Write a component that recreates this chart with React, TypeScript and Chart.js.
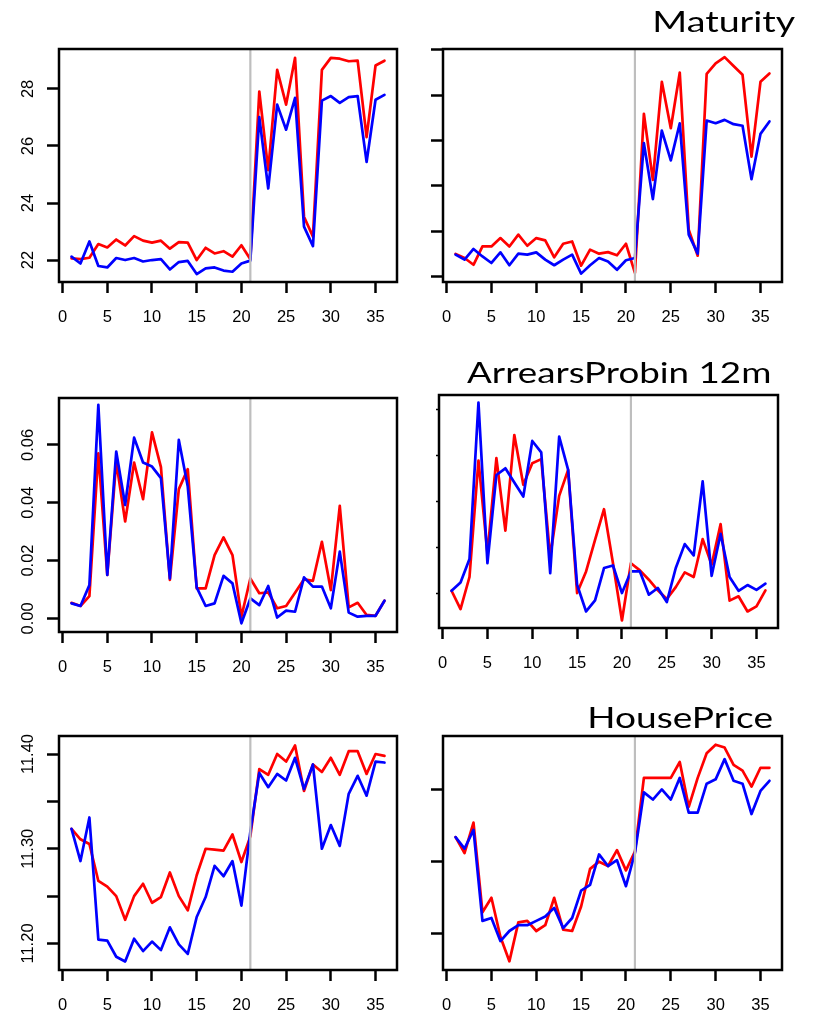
import React, { useEffect, useRef } from 'react';
import { Chart, registerables } from 'chart.js';

Chart.register(...registerables);

// ---------- data ----------
const CATEGORIES = [1, 2, 3, 4, 5, 6, 7, 8, 9, 10, 11, 12, 13, 14, 15, 16, 17, 18, 19, 20, 21, 22, 23, 24, 25, 26, 27, 28, 29, 30, 31, 32, 33, 34, 35, 36];
const X_TICKS = [0, 5, 10, 15, 20, 25, 30, 35];
const BREAK_AT = 21;

const maturityLeftRed = [22.06, 22.03, 22.08, 22.56, 22.44, 22.72, 22.51, 22.84, 22.68, 22.61, 22.68, 22.40, 22.63, 22.61, 22.00, 22.43, 22.23, 22.31, 22.12, 22.52, 22.03, 27.91, 25.15, 28.67, 27.45, 29.09, 23.52, 22.82, 28.67, 29.09, 29.06, 28.97, 28.99, 26.31, 28.82, 28.99];
const maturityLeftBlue = [22.12, 21.88, 22.65, 21.79, 21.74, 22.07, 22.00, 22.07, 21.95, 22.00, 22.03, 21.67, 21.93, 21.97, 21.51, 21.71, 21.74, 21.63, 21.59, 21.88, 21.98, 27.01, 24.51, 27.45, 26.57, 27.69, 23.17, 22.49, 27.59, 27.75, 27.51, 27.71, 27.75, 25.44, 27.62, 27.79];
const maturityLeftTicks = [22, 24, 26, 28];
const maturityLeftLabels = ['22', '24', '26', '28'];

const maturityRightRed = [20.99, 20.81, 20.51, 21.32, 21.32, 21.69, 21.32, 21.84, 21.35, 21.69, 21.59, 20.84, 21.44, 21.54, 20.47, 21.18, 21.00, 21.07, 20.93, 21.44, 20.15, 27.18, 24.26, 28.59, 26.54, 29.00, 22.06, 20.91, 28.94, 29.41, 29.68, 29.29, 28.90, 25.29, 28.59, 28.96];
const maturityRightBlue = [20.96, 20.74, 21.21, 20.88, 20.59, 21.06, 20.49, 21.00, 20.96, 21.06, 20.74, 20.49, 20.74, 20.96, 20.12, 20.49, 20.81, 20.66, 20.29, 20.71, 20.81, 25.88, 23.41, 26.44, 25.12, 26.76, 21.84, 21.00, 26.88, 26.76, 26.91, 26.72, 26.65, 24.29, 26.29, 26.84];
const maturityRightTicks = [20, 22, 24, 26, 28, 30];

const arrearsLeftRed = [0.0054, 0.0043, 0.0077, 0.0571, 0.0150, 0.0542, 0.0335, 0.0539, 0.0412, 0.0643, 0.0523, 0.0133, 0.0447, 0.0516, 0.0104, 0.0104, 0.0219, 0.0280, 0.0219, 0.0006, 0.0138, 0.0087, 0.0090, 0.0035, 0.0043, 0.0089, 0.0135, 0.0130, 0.0265, 0.0098, 0.0389, 0.0038, 0.0054, 0.0012, 0.0009, 0.0061];
const arrearsLeftBlue = [0.0052, 0.0043, 0.0115, 0.0738, 0.0150, 0.0577, 0.0392, 0.0625, 0.0539, 0.0525, 0.0485, 0.0138, 0.0617, 0.0456, 0.0107, 0.0043, 0.0052, 0.0147, 0.0121, -0.0017, 0.0069, 0.0046, 0.0112, 0.0003, 0.0027, 0.0023, 0.0142, 0.0110, 0.0110, 0.0035, 0.0231, 0.0020, 0.0006, 0.0009, 0.0009, 0.0061];
const arrearsLeftTicks = [0, 0.02, 0.04, 0.06];
const arrearsLeftLabels = ['0.00', '0.02', '0.04', '0.06'];

const arrearsRightRed = [0.0010, -0.0070, 0.0070, 0.0577, 0.0174, 0.0587, 0.0272, 0.0688, 0.0471, 0.0565, 0.0583, 0.0159, 0.0423, 0.0536, 0.0000, 0.0094, 0.0232, 0.0365, 0.0130, -0.0119, 0.0130, 0.0099, 0.0058, 0.0012, -0.0026, 0.0026, 0.0090, 0.0070, 0.0235, 0.0123, 0.0300, -0.0033, -0.0014, -0.0080, -0.0058, 0.0012];
const arrearsRightBlue = [0.0010, 0.0046, 0.0148, 0.0829, 0.0130, 0.0514, 0.0543, 0.0481, 0.0420, 0.0662, 0.0612, 0.0087, 0.0681, 0.0536, 0.0036, -0.0080, -0.0032, 0.0109, 0.0120, 0.0000, 0.0094, 0.0094, -0.0007, 0.0022, -0.0039, 0.0109, 0.0213, 0.0164, 0.0486, 0.0075, 0.0258, 0.0070, 0.0010, 0.0035, 0.0014, 0.0041];
const arrearsRightTicks = [0, 0.02, 0.04, 0.06, 0.08];

const houseLeftRed = [11.321, 11.310, 11.305, 11.266, 11.260, 11.250, 11.225, 11.250, 11.263, 11.243, 11.249, 11.275, 11.250, 11.235, 11.272, 11.300, 11.299, 11.298, 11.315, 11.286, 11.313, 11.384, 11.378, 11.400, 11.392, 11.409, 11.361, 11.389, 11.381, 11.396, 11.378, 11.403, 11.403, 11.379, 11.400, 11.398];
const houseLeftBlue = [11.321, 11.287, 11.333, 11.204, 11.203, 11.186, 11.181, 11.205, 11.192, 11.202, 11.193, 11.217, 11.199, 11.189, 11.228, 11.249, 11.282, 11.271, 11.287, 11.240, 11.318, 11.380, 11.365, 11.379, 11.372, 11.396, 11.363, 11.389, 11.300, 11.325, 11.303, 11.358, 11.377, 11.356, 11.392, 11.391];
const houseLeftTicks = [11.20, 11.25, 11.30, 11.35, 11.40];
const houseLeftLabels = ['11.20', '', '11.30', '', '11.40'];

const houseRightRed = [11.267, 11.256, 11.277, 11.215, 11.225, 11.198, 11.181, 11.208, 11.209, 11.202, 11.206, 11.225, 11.203, 11.202, 11.219, 11.245, 11.250, 11.247, 11.258, 11.244, 11.257, 11.308, 11.308, 11.308, 11.308, 11.319, 11.288, 11.308, 11.325, 11.331, 11.329, 11.317, 11.313, 11.302, 11.315, 11.315];
const houseRightBlue = [11.267, 11.259, 11.272, 11.209, 11.211, 11.195, 11.202, 11.206, 11.206, 11.209, 11.212, 11.218, 11.204, 11.211, 11.230, 11.234, 11.255, 11.247, 11.251, 11.233, 11.256, 11.298, 11.293, 11.300, 11.293, 11.308, 11.284, 11.284, 11.304, 11.307, 11.321, 11.306, 11.304, 11.283, 11.299, 11.306];
const houseRightTicks = [11.20, 11.25, 11.30];

const TITLES = ['Maturity', 'ArrearsProbin 12m', 'HousePrice'];

// ---------- styling ----------
const TICK_FAMILY = "'Liberation Sans', Arial, Helvetica, sans-serif";
const TICK_SIZE = 16.5;
const RED = '#ff0000';
const BLUE = '#0000ff';

type Box = { l: number; t: number; r: number; b: number };
type PanelSpec = {
  red: number[];
  blue: number[];
  yMin: number;
  yMax: number;
  yTicks: number[];
  yLabels: string[] | null;
  box: Box;
  yTickLen: number;
  yTickWidth: number;
};

const PANELS: PanelSpec[] = [
  { red: maturityLeftRed, blue: maturityLeftBlue, yMin: 21.23, yMax: 29.40, yTicks: maturityLeftTicks, yLabels: maturityLeftLabels, box: { l: 59, t: 49, r: 397, b: 282 }, yTickLen: 12, yTickWidth: 2.5 },
  { red: maturityRightRed, blue: maturityRightBlue, yMin: 19.75, yMax: 30.04, yTicks: maturityRightTicks, yLabels: null, box: { l: 443, t: 49, r: 782, b: 282 }, yTickLen: 12, yTickWidth: 2.5 },
  { red: arrearsLeftRed, blue: arrearsLeftBlue, yMin: -0.0047, yMax: 0.0762, yTicks: arrearsLeftTicks, yLabels: arrearsLeftLabels, box: { l: 59, t: 398, r: 397, b: 632 }, yTickLen: 12, yTickWidth: 2.5 },
  { red: arrearsRightRed, blue: arrearsRightBlue, yMin: -0.0152, yMax: 0.0862, yTicks: arrearsRightTicks, yLabels: null, box: { l: 439, t: 395, r: 778, b: 628 }, yTickLen: 3, yTickWidth: 1.5 },
  { red: houseLeftRed, blue: houseLeftBlue, yMin: 11.172, yMax: 11.419, yTicks: houseLeftTicks, yLabels: houseLeftLabels, box: { l: 59, t: 736, r: 397, b: 970 }, yTickLen: 12, yTickWidth: 2.5 },
  { red: houseRightRed, blue: houseRightBlue, yMin: 11.175, yMax: 11.337, yTicks: houseRightTicks, yLabels: null, box: { l: 443, t: 736, r: 782, b: 970 }, yTickLen: 12, yTickWidth: 2.5 },
];

const TITLE_POS = [
  { left: 655, right: 796, baseline: 32 },
  { left: 467, right: 770, baseline: 383 },
  { left: 590, right: 772, baseline: 728 },
];
const TITLE_FAMILY = "Lato, 'Open Sans', sans-serif";
const TITLE_SIZE = 28;

let measureCtx: CanvasRenderingContext2D | null = null;
function getCtx() {
  if (!measureCtx) measureCtx = document.createElement('canvas').getContext('2d');
  return measureCtx!;
}

const PAD_L = 55;
const PAD_T = 45;
const PAD_R = 14;
const PAD_B = 46;

function Panel({ spec }: { spec: PanelSpec }) {
  const ref = useRef<HTMLCanvasElement>(null);
  const { box } = spec;
  const w = box.r - box.l + PAD_L + PAD_R;
  const h = box.b - box.t + PAD_T + PAD_B;

  useEffect(() => {
    const font = { family: TICK_FAMILY, size: TICK_SIZE };
    let yPadding = 0;
    if (spec.yLabels) {
      const ctx = getCtx();
      ctx.font = `${TICK_SIZE}px ${TICK_FAMILY}`;
      const widest = Math.max(...spec.yLabels.map((s) => ctx.measureText(s).width));
      // label visible edge ~26px left of the box; 'bottom' baseline adds the font descent
      const anchorGap = 26 - 0.212 * TICK_SIZE;
      yPadding = anchorGap - spec.yTickLen - widest / 2;
    }
    const framePlugin = {
      id: 'frame' + box.l + '_' + box.t,
      afterDatasetsDraw(chart: any) {
        const { ctx, chartArea: a, scales } = chart;
        const x = scales.x.getPixelForValue(BREAK_AT);
        ctx.save();
        ctx.strokeStyle = '#bebebe';
        ctx.lineWidth = 2.2;
        ctx.beginPath();
        ctx.moveTo(x, a.top);
        ctx.lineTo(x, a.bottom);
        ctx.stroke();
        ctx.strokeStyle = '#000';
        ctx.lineWidth = 2.5;
        ctx.strokeRect(a.left, a.top, a.right - a.left, a.bottom - a.top);
        ctx.restore();
      },
    };
    const chart = new Chart(ref.current!, {
      type: 'line',
      data: {
        datasets: [
          {
            label: 'blue',
            data: CATEGORIES.map((x, i) => ({ x, y: spec.blue[i] })),
            borderColor: BLUE,
            backgroundColor: BLUE,
            borderWidth: 2.7,
            pointRadius: 0,
            tension: 0,
            fill: false,
            borderJoinStyle: 'round',
            borderCapStyle: 'round',
          },
          {
            label: 'red',
            data: CATEGORIES.map((x, i) => ({ x, y: spec.red[i] })),
            borderColor: RED,
            backgroundColor: RED,
            borderWidth: 2.7,
            pointRadius: 0,
            tension: 0,
            fill: false,
            borderJoinStyle: 'round',
            borderCapStyle: 'round',
          },
        ],
      },
      options: {
        animation: false,
        responsive: false,
        devicePixelRatio: 1,
        events: [],
        layout: { padding: { left: 0, top: PAD_T, right: PAD_R, bottom: 0 } },
        plugins: { legend: { display: false }, tooltip: { enabled: false }, title: { display: false } },
        scales: {
          x: {
            type: 'linear',
            min: -0.4,
            max: 37.4,
            afterBuildTicks: (s: any) => {
              s.ticks = X_TICKS.map((v) => ({ value: v }));
            },
            afterFit: (s: any) => {
              s.height = PAD_B;
            },
            border: { display: false },
            grid: { drawOnChartArea: false, drawTicks: true, tickLength: 11, tickWidth: 2.5, tickColor: '#000', color: '#000' },
            ticks: {
              autoSkip: false,
              maxRotation: 0,
              minRotation: 0,
              padding: 15,
              color: '#000',
              font,
              callback: (v: any) => String(v),
            },
          },
          y: {
            type: 'linear',
            min: spec.yMin,
            max: spec.yMax,
            afterBuildTicks: (s: any) => {
              s.ticks = spec.yTicks.map((v) => ({ value: v }));
            },
            afterFit: (s: any) => {
              s.width = PAD_L;
            },
            border: { display: false },
            grid: { drawOnChartArea: false, drawTicks: true, tickLength: spec.yTickLen, tickWidth: spec.yTickWidth, tickColor: '#000', color: '#000' },
            ticks: {
              display: !!spec.yLabels,
              autoSkip: false,
              minRotation: 90,
              maxRotation: 90,
              align: 'end',
              crossAlign: 'center',
              padding: yPadding,
              color: '#000',
              font,
              callback: (_v: any, i: number) => (spec.yLabels ? spec.yLabels[i] : ''),
            },
          },
        },
      } as any,
      plugins: [framePlugin],
    });
    return () => chart.destroy();
  }, []);

  return (
    <canvas
      ref={ref}
      width={w}
      height={h}
      style={{ position: 'absolute', left: box.l - PAD_L, top: box.t - PAD_T, width: w, height: h }}
    />
  );
}

function Title({ text, left, right, baseline }: { text: string; left: number; right: number; baseline: number }) {
  const ctx = getCtx();
  const fontStr = `${TITLE_SIZE}px ${TITLE_FAMILY}`;
  ctx.font = fontStr;
  const m = ctx.measureText(text);
  const inkL = m.actualBoundingBoxLeft;
  const inkW = m.actualBoundingBoxLeft + m.actualBoundingBoxRight;
  const k = (right - left) / inkW;
  const asc = m.fontBoundingBoxAscent || TITLE_SIZE * 0.987;
  const desc = m.fontBoundingBoxDescent || TITLE_SIZE * 0.213;
  return (
    <div
      style={{
        position: 'absolute',
        left,
        top: baseline - asc,
        font: fontStr,
        lineHeight: `${asc + desc}px`,
        whiteSpace: 'nowrap',
        color: '#000',
        transformOrigin: '0 0',
        transform: `translateX(${inkL * k}px) scaleX(${k})`,
        zIndex: 2,
      }}
    >
      {text}
    </div>
  );
}

export default function App() {
  return (
    <div style={{ position: 'absolute', left: 0, top: 0, width: 814, height: 1016, background: '#fff', overflow: 'hidden' }}>
      {PANELS.map((p, i) => (
        <Panel key={i} spec={p} />
      ))}
      {TITLES.map((t, i) => (
        <Title key={t} text={t} left={TITLE_POS[i].left} right={TITLE_POS[i].right} baseline={TITLE_POS[i].baseline} />
      ))}
    </div>
  );
}
